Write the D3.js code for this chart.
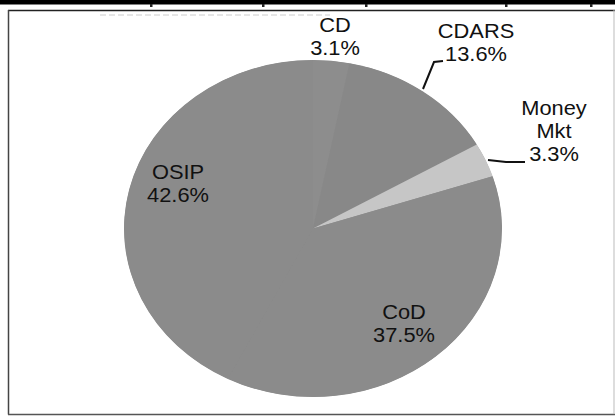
<!DOCTYPE html>
<html><head><meta charset="utf-8">
<script src="https://cdn.jsdelivr.net/npm/d3@7"></script>
<style>html,body{margin:0;padding:0;background:#fff;}svg{display:block;}</style>
</head><body>
<script>
const categories = ["CD", "CDARS", "Money Mkt", "CoD", "OSIP"];
const values = [3.1, 13.6, 3.3, 37.5, 42.6];
const valueLabels = ["3.1%", "13.6%", "3.3%", "37.5%", "42.6%"];

const W = 615, H = 416;
const cx = 313, cy = 228.5, rx = 189, ry = 168.5;
const sx = rx / ry;
const colors = ["#8d8d8d", "#888888", "#c6c6c6", "#8b8b8b", "#8b8b8b"];

const svg = d3.select("body").append("svg").attr("width", W).attr("height", H);
svg.append("rect").attr("width", W).attr("height", H).attr("fill", "#fff");

// top heavy rule with notches
svg.append("rect").attr("x", 0).attr("y", 0).attr("width", W).attr("height", 4.5).attr("fill", "#000");
[150, 262, 365, 505, 590].forEach(x => {
  svg.append("rect").attr("x", x).attr("y", 4).attr("width", 2.5).attr("height", 3).attr("fill", "#222");
});
svg.append("line").attr("x1", 100).attr("x2", 330).attr("y1", 15).attr("y2", 15)
  .attr("stroke", "#ccc").attr("stroke-width", 1).attr("stroke-dasharray", "6 3");

// frame
svg.append("line").attr("x1", 8).attr("x2", W).attr("y1", 10.5).attr("y2", 10.5).attr("stroke", "#222").attr("stroke-width", 1.5);
svg.append("line").attr("x1", 8.5).attr("x2", 8.5).attr("y1", 10).attr("y2", 414.5).attr("stroke", "#444").attr("stroke-width", 1.5);
svg.append("line").attr("x1", 8).attr("x2", W).attr("y1", 414.5).attr("y2", 414.5).attr("stroke", "#555").attr("stroke-width", 1.5);
svg.append("line").attr("x1", 614).attr("x2", 614).attr("y1", 10).attr("y2", 414).attr("stroke", "#bbb").attr("stroke-width", 1);

const pie = d3.pie().sort(null).value(d => d)(values);
const arc = d3.arc().innerRadius(0).outerRadius(ry);

const g = svg.append("g").attr("transform", `translate(${cx},${cy}) scale(${sx},1)`);
// base disc to hide seams between near-identical slices
g.append("circle").attr("r", ry - 0.3).attr("fill", "#8b8b8b");
g.selectAll("path.slice").data(pie).join("path")
  .attr("class", "slice")
  .attr("d", arc)
  .attr("fill", (d, i) => colors[i]);

const layout = {
  "CD": {x: 335, y: 32, lines: ["CD"]},
  "CDARS": {x: 476, y: 38, lines: ["CDARS"]},
  "Money Mkt": {x: 554, y: 115, lines: ["Money", "Mkt"]},
  "CoD": {x: 404, y: 319, lines: ["CoD"]},
  "OSIP": {x: 178, y: 179, lines: ["OSIP"]}
};
const lh = 23;
categories.forEach((c, i) => {
  const L = layout[c];
  const all = L.lines.concat([valueLabels[i]]);
  all.forEach((t, k) => {
    svg.append("g").attr("transform", `translate(${L.x},${L.y + k * lh}) scale(1.12,1)`)
      .append("text").attr("text-anchor", "middle")
      .attr("font-family", "'Liberation Sans', Arial, sans-serif")
      .attr("font-size", 19.5).attr("fill", "#111").text(t);
  });
});

// leader lines
svg.append("path").attr("d", "M423,89 L434,62 L443,61").attr("fill", "none").attr("stroke", "#111").attr("stroke-width", 2);
svg.append("path").attr("d", "M488,160 L506,162 L525,162").attr("fill", "none").attr("stroke", "#111").attr("stroke-width", 2);
</script>
</body></html>
